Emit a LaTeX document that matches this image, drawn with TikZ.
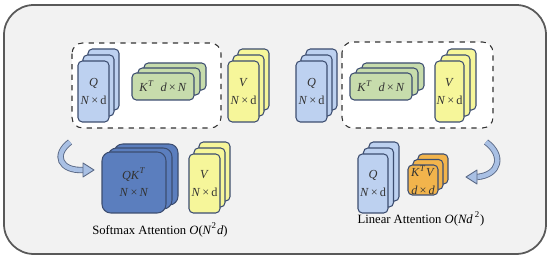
\documentclass[tikz,border=0pt]{standalone}
\usepackage{fontspec}
\setmainfont{Liberation Serif}
\usepackage{tikz}
\usetikzlibrary{calc}
\definecolor{framegray}{HTML}{F2F2F2}
\definecolor{edgeblue}{HTML}{3C4D70}
\definecolor{qblue}{HTML}{BDD1F0}
\definecolor{kgreen}{HTML}{C7DCAC}
\definecolor{vyellow}{HTML}{F6F69A}
\definecolor{sblue}{HTML}{5B7EBE}
\definecolor{korange}{HTML}{F2B44C}
\definecolor{arrowblue}{HTML}{A9C0E4}
\tikzstyle{card} = [draw=edgeblue, line width=0.6pt, rounded corners=2.5pt]
\tikzstyle{qcard} = [card, fill=qblue]
\tikzstyle{kcard} = [card, fill=kgreen]
\tikzstyle{vcard} = [card, fill=vyellow]
\tikzstyle{scard} = [card, fill=sblue, rounded corners=5pt]
\tikzstyle{ocard} = [card, fill=korange]
\tikzstyle{cardtxt} = [align=center, inner sep=0pt, font=\fontsize{7}{10}\selectfont, text=black!80]
\tikzstyle{captiontxt} = [inner sep=0pt, font=\fontsize{7.2}{9}\selectfont]
\tikzstyle{groupbox} = [draw=black!80, dashed, line width=0.6pt, fill=white, rounded corners=6pt]
\tikzstyle{bendout} = [draw=edgeblue!85, line width=3.6pt, line cap=butt]
\tikzstyle{bendin} = [draw=arrowblue, line width=2.6pt, line cap=butt]
\tikzstyle{bendhead} = [draw=edgeblue!85, fill=arrowblue, line width=0.5pt, line join=round]

% stack of three cards: style, x, y, w, h, dx, dy, name, text
\newcommand{\cardstack}[9]{%
  \foreach \i in {2,1}
    \draw[#1] (#2+\i*#6, #3-\i*#7) rectangle ++(#4,#5);
  \draw[#1] (#2,#3) rectangle ++(#4,#5);
  \node[cardtxt] (#8) at (#2+#4/2, #3+#5/2) {#9};
}

\begin{document}
\begin{tikzpicture}[x=0.02cm, y=-0.02cm]
\useasboundingbox (0,0) rectangle (550,259);
    \draw[draw=black!65, fill=framegray, line width=1pt, rounded corners=17pt] (4,5) rectangle (546,254);

    % softmax side
    \draw[groupbox] (72,43) rectangle (221,128);
    \cardstack{qcard}{78}{61}{31}{61}{5}{6}{qa}{\textit{Q}\\\textit{N}\,×\,d}
    \cardstack{kcard}{132}{73}{62}{27}{6}{5}{ka}{\textit{K}\textsuperscript{\textit{T}}\ \ \textit{d}\,×\,\textit{N}}
    \cardstack{vcard}{228}{61}{31}{61}{5}{6}{va}{\textit{V}\\\textit{N}\,×\,d}

    \cardstack{scard}{102}{152}{64}{61}{6}{4}{qk}{\fontsize{7}{8.5}\selectfont\textit{QK}\textsuperscript{\textit{T}}\\\textit{N}\,×\,\textit{N}}
    \cardstack{vcard}{189}{154}{31}{59}{5}{6}{vb}{\textit{V}\\\textit{N}\,×\,d}
    \node[captiontxt] (soft) at (160,230) {Softmax Attention \textit{O}(\textit{N}\textsuperscript{2}\textit{d})};

    % linear side
    \draw[groupbox] (342,42) rectangle (493,128);
    \cardstack{qcard}{296}{61}{31}{61}{5}{6}{qc}{\textit{Q}\\\textit{N}\,×\,d}
    \cardstack{kcard}{350}{73}{62}{27}{6}{5}{kc}{\textit{K}\textsuperscript{\textit{T}}\ \ \textit{d}\,×\,\textit{N}}
    \cardstack{vcard}{435}{61}{29}{61}{6}{6}{vc}{\textit{V}\\\textit{N}\,×\,d}

    \cardstack{qcard}{358}{154}{30}{59}{5.5}{6}{qd}{\textit{Q}\\\textit{N}\,×\,d}
    \cardstack{ocard}{408}{165}{30}{30}{5}{5.5}{kv}{\fontsize{7}{8.5}\selectfont\textit{K}\textsuperscript{\textit{T}}\textit{V}\\\textit{d}\,×\,\textit{d}}
    \node[captiontxt] (lin) at (421,219) {Linear Attention \textit{O}(\textit{Nd}\,\textsuperscript{2})};

    % curved arrows
    \coordinate (la) at (70,142);
    \coordinate (lb) at (83,170);
    \coordinate (ra) at (486,142);
    \coordinate (rb) at (477,177);
    \draw[bendout] (la) .. controls (53,155) and (60,171) .. (lb);
    \draw[bendin] (la) .. controls (53,155) and (60,171) .. (lb);
    \draw[bendhead] ($(lb)+(0,-7)$) -- ($(lb)+(11,0)$) -- ($(lb)+(0,7)$) -- cycle;
    \draw[bendout] (ra) .. controls (504,155) and (500,175) .. (rb);
    \draw[bendin] (ra) .. controls (504,155) and (500,175) .. (rb);
    \draw[bendhead] ($(rb)+(0,-7)$) -- ($(rb)+(-11,0)$) -- ($(rb)+(0,7)$) -- cycle;
\end{tikzpicture}
\end{document}
